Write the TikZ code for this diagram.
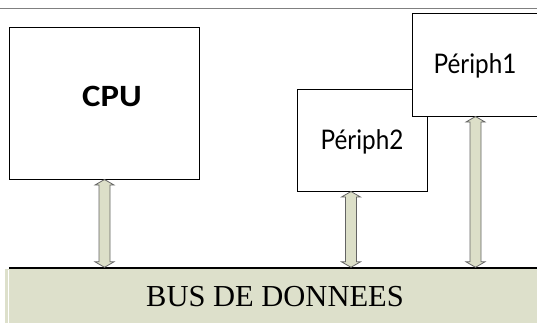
\documentclass[tikz,border=0pt]{standalone}
\usepackage{fontspec}
\usetikzlibrary{calc}
\newfontfamily\cpufont[FakeStretch=1.12]{Carlito}
\newfontfamily\perfont[FakeStretch=0.9]{Lato}
\newfontfamily\busfont{Liberation Serif}
\definecolor{busfill}{RGB}{221,224,203}
\definecolor{arrowfill}{RGB}{220,223,200}
\definecolor{arrowline}{RGB}{100,100,100}
\definecolor{rulegray}{RGB}{128,128,128}
\begin{document}
\begin{tikzpicture}[x=1pt,y=-1pt,
  box/.style={draw=black,line width=1pt,fill=white,inner sep=0pt},
  blockarrow/.style={draw=arrowline,fill=arrowfill,line width=0.8pt,line join=miter,
    to path={let \p1=(\tikztostart), \p2=(\tikztotarget) in
      (\x1-5.5pt,\y1-5.5pt) -- (\x1-9.5pt,\y1-5.5pt) -- (\x1,\y1) -- (\x1+9.5pt,\y1-5.5pt)
      -- (\x1+5.5pt,\y1-5.5pt) -- (\x1+5.5pt,\y2+5.5pt) -- (\x1+9.5pt,\y2+5.5pt) -- (\x1,\y2)
      -- (\x1-9.5pt,\y2+5.5pt) -- (\x1-5.5pt,\y2+5.5pt) -- cycle}},
  lbl/.style={inner sep=0pt,text=black}]
\useasboundingbox (0,0) rectangle (537,322);
\begin{scope}
\clip (0,0) rectangle (537,322);

% thin rule along the top
\draw[rulegray,line width=1.5pt] (0,8.7) -- (537,8.7);

% data bus
\fill[busfill] (5,268.5) rectangle (545,330);
\draw[white,line width=1.6pt] (8.5,270) -- (8.5,330);
\node[inner sep=0pt,minimum width=530pt,minimum height=54pt] (bus) at (278,294.5) {};
\draw[black,line width=2pt] (9,267.5) -- (545,267.5);
\node[lbl,font=\busfont\fontsize{30.5}{30.5}\selectfont] (bustext) at (275,297) {BUS DE DONNEES};

% processor and peripherals
\node[box,minimum width=190pt,minimum height=152pt] (cpu) at (104,103) {};
\node[lbl,font=\cpufont\bfseries\fontsize{31}{31}\selectfont] (cputext) at (112,96) {CPU};

\node[box,minimum width=130pt,minimum height=102pt] (p2) at (362,140) {};
\node[lbl,font=\perfont\fontsize{27}{27}\selectfont] (p2text) at (362,142) {Périph2};

\node[box,minimum width=128pt,minimum height=103pt] (p1) at (476,64.5) {};
\node[lbl,font=\perfont\fontsize{27}{27}\selectfont] (p1text) at (475,66) {Périph1};

% bidirectional links to the bus
\draw[blockarrow] ([xshift=0.5pt]cpu.south) to (cpu.south |- bus.north);
\draw[blockarrow] ([xshift=-11pt]p2.south) to (p2.south |- bus.north);
\draw[blockarrow] ([xshift=-0.5pt]p1.south) to (p1.south |- bus.north);
\end{scope}
\end{tikzpicture}
\end{document}
